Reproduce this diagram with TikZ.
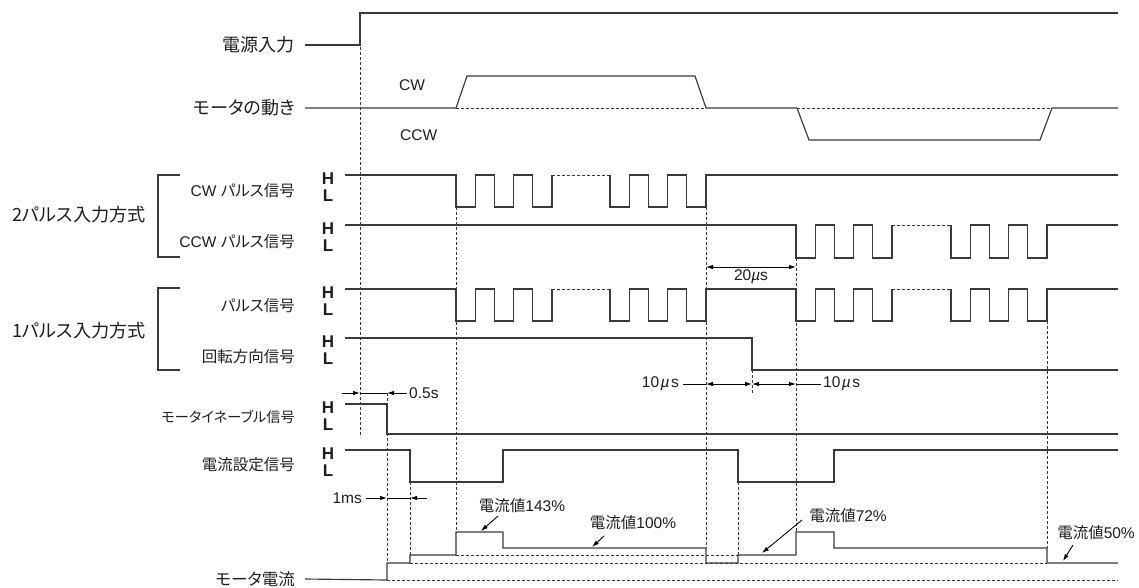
\documentclass[tikz,border=0pt]{standalone}
\usepackage{fontspec}
\setmainfont{Liberation Sans}
\newfontfamily\jp[RawFeature=+palt]{Noto Sans CJK JP}
\newfontfamily\hlfont{Liberation Sans Bold}
\usetikzlibrary{arrows.meta}
\definecolor{ln}{HTML}{3A3A3A}
\definecolor{tx}{HTML}{1E1E1E}
\begin{document}
\begin{tikzpicture}[x=1pt,y=-1pt,
  sig/.style={line width=1.15pt,draw=ln,line join=miter},
  dsh/.style={line width=0.75pt,draw=ln,dash pattern=on 3pt off 2pt},
  lblbig/.style={anchor=east,inner sep=0pt,text=tx,font=\jp\fontsize{18}{18}\selectfont},
  grp/.style={anchor=east,inner sep=0pt,text=tx,font=\jp\fontsize{18.2}{20}\selectfont},
  lblsm/.style={anchor=east,inner sep=0pt,text=tx,font=\fontsize{15.5}{16}\selectfont},
  hl/.style={inner sep=0pt,text=tx,font=\hlfont\fontsize{17}{17}\selectfont},
  tlab/.style={inner sep=0pt,text=tx,font=\fontsize{15.5}{15.5}\selectfont},
  cval/.style={inner sep=0pt,text=tx,font=\fontsize{15.5}{16}\selectfont},
  dim/.style={line width=0.9pt,draw=black,-{Latex[length=7pt,width=4.5pt]}},
  ddim/.style={line width=0.9pt,draw=black,{Latex[length=7pt,width=4.5pt]}-{Latex[length=7pt,width=4.5pt]}},
  thinl/.style={line width=0.9pt,draw=black}
]
\useasboundingbox (0,0) rectangle (1139,587);

% ---------- labels ----------
\node[lblbig] (lpwr) at (295,45) {電源入力};
\node[lblbig] (lmot) at (295,108) {モータの動き};
\node[grp] (g2) at (146,215) {2パルス入力方式};
\node[grp] (g1) at (146,331) {1パルス入力方式};
\node[lblsm] (lcw) at (295,191) {CW {\jp パルス信号}};
\node[lblsm] (lccw) at (295,241.5) {CCW {\jp パルス信号}};
\node[lblsm] (lpls) at (295,306) {\jp パルス信号};
\node[lblsm] (lrot) at (295,356.5) {\jp 回転方向信号};
\node[lblsm,font=\jp\fontsize{14.2}{16}\selectfont] (len) at (295,417) {モータイネーブル信号};
\node[lblsm] (lcur) at (295,465) {\jp 電流設定信号};
\node[lblsm,font=\jp\fontsize{16.5}{17}\selectfont] (lmc) at (295,579) {モータ電流};

\node[tlab] (tcw) at (412,85) {CW};
\node[tlab,anchor=west] (tccw) at (400,135) {CCW};

% brackets
\draw[sig] (180,175) -- (158,175) -- (158,257) -- (180,257);
\draw[sig] (180,288) -- (158,288) -- (158,370) -- (180,370);

% H / L marks
\foreach \nm/\yy in {cw/175,ccw/225,pls/289,rot/338,en/404,cur/450}{
  \node[hl] (\nm H) at (328,\yy+3.5) {H};
  \node[hl] (\nm L) at (328,\yy+20.5) {L};
}

% ---------- dashed guide lines ----------
\draw[dsh] (360,47) -- (360,437);
\draw[dsh] (456,207) -- (456,532);
\draw[dsh] (706,207) -- (706,548);
\draw[dsh] (796,258) -- (796,532);
\draw[dsh] (752,370) -- (752,393);
\draw[dsh] (387,393) -- (387,563);
\draw[dsh] (410,482) -- (410,555);
\draw[dsh] (738,482) -- (738,555);
\draw[dsh] (1047,321) -- (1047,548);
\draw[dsh] (456,555) -- (738,555);
\draw[dsh] (410,563) -- (1047,563);
\draw[dsh] (387,580) -- (1118,580);

% ---------- power ----------
\draw[sig] ([xshift=10pt]lpwr.east) -- (360,45) -- (360,13) -- (1118,13);

% ---------- motor motion ----------
\draw[sig] ([xshift=10pt]lmot.east) -- (456,108) -- (467,76) -- (695,76) -- (706,108)
  -- (797,108) -- (809,140) -- (1040,140) -- (1052,108) -- (1118,108);
\draw[dsh] (456,108) -- (706,108) (797,108) -- (1052,108);

% ---------- CW pulse ----------
\draw[sig] (345,175) -- (456,175)
  \foreach \a/\b in {456/475.2,494.4/513.6,532.8/552}{ -- (\a,175) -- (\a,207) -- (\b,207) -- (\b,175)};
\draw[dsh] (552,175) -- (610,175);
\draw[sig] (610,175)
  \foreach \a/\b in {610/629.2,648.4/667.6,686.8/706}{ -- (\a,175) -- (\a,207) -- (\b,207) -- (\b,175)}
  -- (1118,175);

% ---------- CCW pulse ----------
\draw[sig] (345,225) -- (796,225)
  \foreach \a/\b in {796/815.2,834.4/853.6,872.8/892}{ -- (\a,225) -- (\a,258) -- (\b,258) -- (\b,225)};
\draw[dsh] (892,225) -- (951,225);
\draw[sig] (951,225)
  \foreach \a/\b in {951/970.2,989.4/1008.6,1027.8/1047}{ -- (\a,225) -- (\a,258) -- (\b,258) -- (\b,225)}
  -- (1118,225);

% ---------- 1-pulse: pulse ----------
\draw[sig] (345,289) -- (456,289)
  \foreach \a/\b in {456/475.2,494.4/513.6,532.8/552}{ -- (\a,289) -- (\a,321) -- (\b,321) -- (\b,289)};
\draw[dsh] (552,289) -- (610,289);
\draw[sig] (610,289)
  \foreach \a/\b in {610/629.2,648.4/667.6,686.8/706}{ -- (\a,289) -- (\a,321) -- (\b,321) -- (\b,289)}
  -- (796,289)
  \foreach \a/\b in {796/815.2,834.4/853.6,872.8/892}{ -- (\a,289) -- (\a,321) -- (\b,321) -- (\b,289)};
\draw[dsh] (892,289) -- (951,289);
\draw[sig] (951,289)
  \foreach \a/\b in {951/970.2,989.4/1008.6,1027.8/1047}{ -- (\a,289) -- (\a,321) -- (\b,321) -- (\b,289)}
  -- (1118,289);

% ---------- rotation direction ----------
\draw[sig] (345,338) -- (752,338) -- (752,370) -- (1118,370);

% ---------- enable ----------
\draw[sig] (345,404) -- (387,404) -- (387,434) -- (1118,434);

% ---------- current setting ----------
\draw[sig] (345,450) -- (410,450) -- (410,482) -- (503,482) -- (503,450) -- (738,450)
  -- (738,482) -- (834,482) -- (834,450) -- (1118,450);

% ---------- motor current ----------
\draw[sig] ([xshift=10pt]lmc.east) -- (387,580) -- (387,563) -- (410,563) -- (410,555)
  -- (456,555) -- (456,532) -- (503,532) -- (503,548) -- (706,548) -- (706,563)
  -- (738,563) -- (738,555) -- (796,555) -- (796,532) -- (834,532) -- (834,548)
  -- (1047,548) -- (1047,563) -- (1118,563);

% ---------- dimensions ----------
% 20us
\draw[ddim] (706,267) -- (796,267);
\node[tlab] (t20) at (751,277) {20\textit{µ}s};
% 10us
\node[tlab,anchor=east] (t10a) at (679,384) {10\kern1.5pt\textit{µ}\kern1.5pt s};
\node[tlab,anchor=west] (t10b) at (823,384) {10\kern1.5pt\textit{µ}\kern1.5pt s};
\draw[thinl] ([xshift=4pt]t10a.east) -- (706,384);
\draw[ddim] (706,384) -- (752,384);
\draw[ddim] (752,384) -- (796,384);
\draw[thinl] (796,384) -- ([xshift=-2pt]t10b.west);
% 0.5s
\node[tlab,anchor=west] (t05) at (409,393) {0.5s};
\coordinate (a05) at (342,393);
\draw[dim] (a05) -- (360,393);
\draw[thinl] (360,393) -- (387,393);
\draw[dim] ([xshift=-2pt]t05.west) -- (387,393);
% 1ms
\node[tlab,anchor=east] (t1ms) at (362,498) {1ms};
\coordinate (b1ms) at (427,498);
\draw[dim] ([xshift=4pt]t1ms.east) -- (387,498);
\draw[thinl] (387,498) -- (410,498);
\draw[dim] (b1ms) -- (410,498);

% ---------- current values ----------
\node[cval] (c143) at (522,506) {{\jp 電流値}143\%};
\node[cval] (c100) at (633,523) {{\jp 電流値}100\%};
\node[cval] (c72) at (848,516) {{\jp 電流値}72\%};
\node[cval] (c50) at (1096,533) {{\jp 電流値}50\%};
\coordinate (p143) at (481,531);
\coordinate (p100) at (592,547);
\coordinate (p72) at (762,553);
\coordinate (p50) at (1063,561);
\draw[dim] (498,516) -- (p143);
\draw[dim] (604,536) -- (p100);
\draw[dim] (802,520) -- (p72);
\draw[dim] (1073,545) -- (p50);
\end{tikzpicture}
\end{document}
